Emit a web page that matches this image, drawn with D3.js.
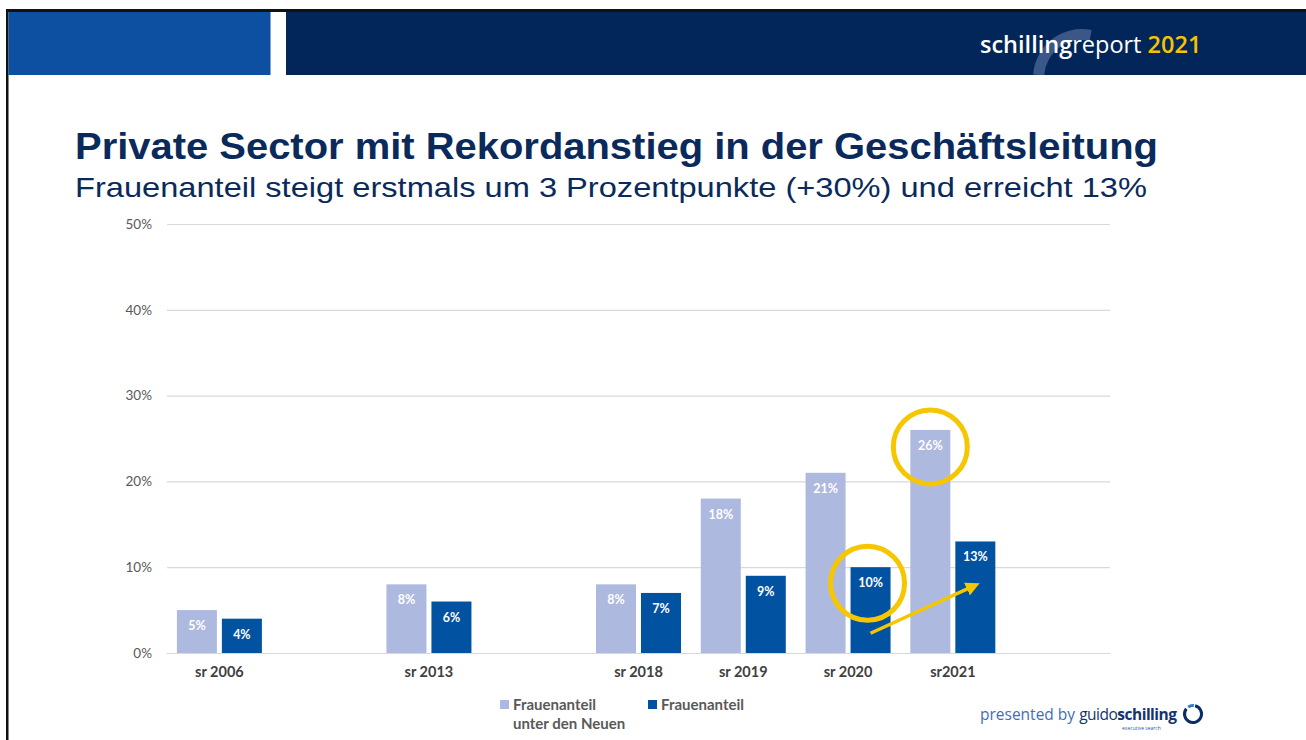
<!DOCTYPE html>
<html>
<head>
<meta charset="utf-8">
<script src="https://d3js.org/d3.v7.min.js"></script>
<style>
  body { margin: 0; background: #fff; }
  svg { display: block; }
</style>
</head>
<body>
<div id="target"></div>
<script>
// data
var categories = ["sr 2006", "gap1", "sr 2013", "gap2", "sr 2018", "sr 2019", "sr 2020", "sr2021", "gap3"];
var labelsShown = ["sr 2006", "sr 2013", "sr 2018", "sr 2019", "sr 2020", "sr2021"];
var newHires = [5, 8, 8, 18, 21, 26];      // Frauenanteil unter den Neuen
var overall = [4, 6, 7, 9, 10, 13];        // Frauenanteil
var yTicks = [0, 10, 20, 30, 40, 50];
var seriesNames = ["Frauenanteil|unter den Neuen", "Frauenanteil"];
var colors = ["#adb9de", "#0152a1"];

var W = 1306, H = 740;
var svg = d3.select('#target').append('svg')
    .attr('width', W).attr('height', H);
var defs = svg.append('defs');

// frame
svg.append('rect').attr('x', 6).attr('y', 9).attr('width', W).attr('height', 3).attr('fill', '#111');
svg.append('rect').attr('x', 6).attr('y', 9).attr('width', 2.5).attr('height', H).attr('fill', '#111');

// header
svg.append('rect').attr('x', 8.5).attr('y', 12).attr('width', 262).attr('height', 63).attr('fill', '#0d4fa1');
svg.append('rect').attr('x', 286).attr('y', 12).attr('width', W - 286).attr('height', 63).attr('fill', '#022659');
defs.append('clipPath').attr('id', 'hdr').append('rect')
    .attr('x', 286).attr('y', 12).attr('width', W - 286).attr('height', 63);
// faint arc behind the logo text
svg.append('g').attr('clip-path', 'url(#hdr)')
  .append('path')
    .attr('d', d3.arc().innerRadius(38).outerRadius(49).startAngle(-1.5).endAngle(0.2)())
    .attr('transform', 'translate(1082,78)')
    .attr('fill', '#3a5787');
var logo = svg.append('text').attr('x', 980).attr('y', 53)
    .style('font-family', 'Open Sans, sans-serif').style('font-size', '23.5px').attr('fill', '#fff');
logo.append('tspan').style('font-weight', '600').text('schilling');
logo.append('tspan').text('report ');
logo.append('tspan').style('font-weight', '600').attr('fill', '#f5c400').text('2021');

// titles
svg.append('text').attr('x', 75).attr('y', 159)
    .attr('textLength', 1083).attr('lengthAdjust', 'spacingAndGlyphs')
    .style('font-family', 'Liberation Sans, Arial, sans-serif').style('font-size', '36px')
    .style('font-weight', 'bold').attr('fill', '#0a2a5c')
    .text('Private Sector mit Rekordanstieg in der Geschäftsleitung');
svg.append('text').attr('x', 75).attr('y', 197)
    .attr('textLength', 1072).attr('lengthAdjust', 'spacingAndGlyphs')
    .style('font-family', 'Liberation Sans, Arial, sans-serif').style('font-size', '28px')
    .attr('fill', '#0a2a5c')
    .text('Frauenanteil steigt erstmals um 3 Prozentpunkte (+30%) und erreicht 13%');

// scales
var x = d3.scaleBand().domain(categories).range([167, 1110]);
var y = d3.scaleLinear().domain([0, 50]).range([653, 224]);
var inner = d3.scaleBand().domain([0, 1]).range([0, x.bandwidth()]).paddingInner(0.111).paddingOuter(0.22);

// grid + y axis
var yAxis = d3.axisLeft(y).tickValues(yTicks).tickSize(-(1110 - 167)).tickFormat(function(d){ return d + '%'; });
var gy = svg.append('g').attr('transform', 'translate(167,0)').call(yAxis);
gy.select('.domain').remove();
gy.selectAll('.tick line').attr('stroke', '#d9d9d9').attr('stroke-width', 1.2);
gy.selectAll('.tick text').attr('x', -15).attr('fill', '#595959')
    .style('font-family', 'Lato, sans-serif').style('font-size', '13.5px');

// x axis
var xAxis = d3.axisBottom(x).tickSize(0).tickFormat(function(d){ return labelsShown.indexOf(d) >= 0 ? d : ''; });
var gx = svg.append('g').attr('transform', 'translate(0,653)').call(xAxis);
gx.select('.domain').attr('stroke', '#d9d9d9').attr('stroke-width', 1.2);
gx.selectAll('.tick text').attr('dy', '1.45em').attr('fill', '#404040')
    .style('font-family', 'Lato, sans-serif').style('font-size', '14.5px').style('font-weight', 'bold');

// bars
var rows = labelsShown.map(function(c, i){ return {cat: c, vals: [newHires[i], overall[i]]}; });
var groups = svg.append('g').selectAll('g').data(rows).enter().append('g')
    .attr('transform', function(d){ return 'translate(' + x(d.cat) + ',0)'; });
var bars = groups.selectAll('g').data(function(d){ return d.vals.map(function(v, k){ return {v: v, k: k}; }); })
    .enter().append('g');
bars.append('rect')
    .attr('x', function(d){ return inner(d.k); })
    .attr('width', inner.bandwidth())
    .attr('y', function(d){ return y(d.v); })
    .attr('height', function(d){ return y(0) - y(d.v); })
    .attr('fill', function(d){ return colors[d.k]; });
bars.append('text')
    .attr('x', function(d){ return inner(d.k) + inner.bandwidth() / 2; })
    .attr('y', function(d){ return y(d.v) + 20; })
    .attr('text-anchor', 'middle').attr('fill', '#fff')
    .style('font-family', 'Lato, sans-serif').style('font-size', '12.5px').style('font-weight', 'bold')
    .text(function(d){ return d.v + '%'; });

// legend
var legend = svg.append('g').attr('transform', 'translate(500,700)');
var items = legend.selectAll('g').data(seriesNames).enter().append('g')
    .attr('transform', function(d, i){ return 'translate(' + (i * 148) + ',0)'; });
items.append('rect').attr('width', 9).attr('height', 9).attr('fill', function(d, i){ return colors[i]; });
items.append('text').attr('x', 13).attr('y', 9.5)
    .style('font-family', 'Lato, sans-serif').style('font-size', '15px').style('font-weight', 'bold')
    .attr('fill', '#595959')
    .selectAll('tspan').data(function(d){ return d.split('|'); }).enter().append('tspan')
    .attr('x', 13).attr('dy', function(d, i){ return i ? 19 : 0; })
    .text(function(d){ return d; });

// annotations
var yellow = '#f6c600';
function barCenter(cat, k){ return x(cat) + inner(k) + inner.bandwidth() / 2; }
svg.append('circle').attr('cx', barCenter('sr2021', 0)).attr('cy', y(newHires[5]) + 17)
    .attr('r', 37).attr('fill', 'none').attr('stroke', yellow).attr('stroke-width', 5);
svg.append('circle').attr('cx', barCenter('sr 2020', 1) - 3).attr('cy', y(overall[4]) + 16)
    .attr('r', 37).attr('fill', 'none').attr('stroke', yellow).attr('stroke-width', 5);
defs.append('marker').attr('id', 'ah').attr('viewBox', '0 0 10 10')
    .attr('refX', 5).attr('refY', 5).attr('markerWidth', 4).attr('markerHeight', 4).attr('orient', 'auto')
    .append('path').attr('d', 'M0,0L10,5L0,10z').attr('fill', yellow);
svg.append('line')
    .attr('x1', barCenter('sr 2020', 1)).attr('y1', y(2.3))
    .attr('x2', barCenter('sr2021', 1) - 2).attr('y2', y(7.8))
    .attr('stroke', yellow).attr('stroke-width', 3.5).attr('marker-end', 'url(#ah)');

// footer
var foot = svg.append('text').attr('x', 980).attr('y', 720)
    .style('font-family', 'Open Sans, sans-serif').style('font-size', '15.5px');
foot.append('tspan').attr('fill', '#3f6fb5').text('presented by ');
foot.append('tspan').attr('fill', '#12356e').style('letter-spacing', '-0.5px').text('guido');
foot.append('tspan').attr('fill', '#12356e').style('font-weight', 'bold').style('letter-spacing', '-0.5px').text('schilling');
svg.append('text').attr('x', 1122).attr('y', 730)
    .style('font-family', 'Open Sans, sans-serif').style('font-size', '5px').attr('fill', '#1d5bb5')
    .text('executive search');
svg.append('path')
    .attr('d', d3.arc().innerRadius(7).outerRadius(10).startAngle(0.25).endAngle(Math.PI * 2 - 0.9)())
    .attr('transform', 'translate(1193,714)').attr('fill', '#0b2d66');
svg.append('path')
    .attr('d', d3.arc().innerRadius(7).outerRadius(10).startAngle(-0.6).endAngle(0.1)())
    .attr('transform', 'translate(1193,714)').attr('fill', '#2f7ad0');
</script>
</body>
</html>
